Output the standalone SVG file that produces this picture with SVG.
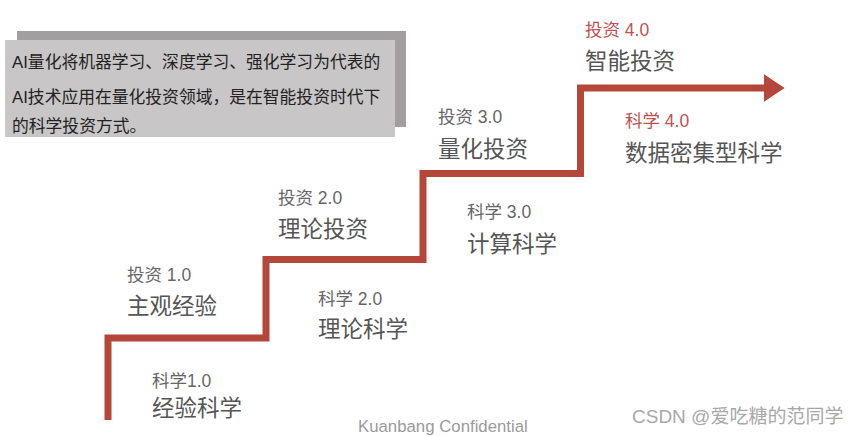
<svg xmlns="http://www.w3.org/2000/svg" width="857" height="436" viewBox="0 0 857 436">
<style>
text{font-family:"Liberation Sans","Noto Sans CJK SC",sans-serif}
.sm{font-size:17.5px;fill:#666}
.big{font-size:22.5px;fill:#555}
.red{fill:#c0504d}
.note{font-size:16.8px;fill:#222}
</style>
<defs>
<marker id="ah" markerWidth="4" markerHeight="4" refX="1.2" refY="2" orient="auto" markerUnits="strokeWidth">
<path d="M0,0 L3,2 L0,4 Z" fill="#b5473a"/>
</marker>
</defs>
<rect width="857" height="436" fill="#fff"/>
<g id="note">
<rect x="17" y="31" width="389" height="96" fill="#a39e9f"/>
<rect x="5" y="40" width="390" height="97" fill="#c9c6c7"/>
<text class="note" x="12" y="68">AI量化将机器学习、深度学习、强化学习为代表的</text>
<text class="note" x="12" y="103">AI技术应用在量化投资领域，是在智能投资时代下</text>
<text class="note" x="12" y="132">的科学投资方式。</text>
</g>
<g id="connectors">
<path d="M108,420 V338 H266 V259.5 H423 V173.5 H580.5 V88 H772" fill="none" stroke="#b5473a" stroke-width="7" marker-end="url(#ah)"/>
</g>
<g id="stage1">
<text class="sm" x="127" y="281">投资 1.0</text>
<text class="big" x="127" y="314">主观经验</text>
<text class="sm" x="152" y="387">科学1.0</text>
<text class="big" x="152" y="416">经验科学</text>
</g>
<g id="stage2">
<text class="sm" x="278" y="204">投资 2.0</text>
<text class="big" x="278" y="237">理论投资</text>
<text class="sm" x="318" y="305">科学 2.0</text>
<text class="big" x="318" y="337">理论科学</text>
</g>
<g id="stage3">
<text class="sm" x="438" y="123">投资 3.0</text>
<text class="big" x="438" y="157">量化投资</text>
<text class="sm" x="467" y="218">科学 3.0</text>
<text class="big" x="467" y="252">计算科学</text>
</g>
<g id="stage4">
<text class="sm red" x="585" y="36">投资 4.0</text>
<text class="big" x="585" y="69">智能投资</text>
<text class="sm red" x="625" y="127">科学 4.0</text>
<text class="big" x="625" y="161">数据密集型科学</text>
</g>
<text x="358" y="432" font-size="16.8" fill="#9a9a9a">Kuanbang Confidential</text>
<text x="632" y="423" font-size="19" fill="#a8a8a8">CSDN @爱吃糖的范同学</text>
</svg>
